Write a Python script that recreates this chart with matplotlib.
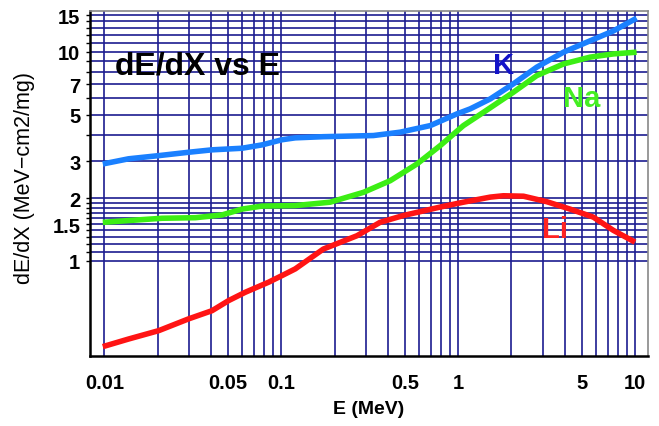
import numpy as np
import matplotlib
matplotlib.use("Agg")
import matplotlib.pyplot as plt
from matplotlib.ticker import FixedLocator, NullFormatter

plt.rcParams['font.family'] = ['Liberation Sans', 'DejaVu Sans']

# --- stopping power curves (E in MeV, dE/dX in MeV cm2/mg) ---
k_e = [0.0098, 0.0137, 0.0203, 0.0299, 0.0406, 0.060, 0.0778, 0.101, 0.120, 0.173,
       0.332, 0.47, 0.695, 0.983, 1.17, 1.52, 2.05, 2.78, 3.94, 5.57, 7.54, 10.2]
k_dedx = [2.91, 3.08, 3.19, 3.31, 3.40, 3.46, 3.59, 3.80, 3.88, 3.93,
          3.98, 4.13, 4.44, 5.05, 5.34, 5.96, 7.03, 8.45, 9.97, 11.3, 12.6, 14.5]

na_e = [0.0098, 0.0137, 0.0212, 0.0327, 0.0463, 0.060, 0.0778, 0.120, 0.189, 0.292,
        0.413, 0.585, 0.791, 1.07, 1.39, 2.05, 2.78, 3.94, 5.57, 7.54, 10.2]
na_dedx = [1.53, 1.56, 1.60, 1.61, 1.66, 1.77, 1.83, 1.84, 1.91, 2.13,
           2.42, 2.91, 3.56, 4.44, 5.14, 6.41, 7.70, 8.76, 9.44, 9.78, 9.97]

li_e = [0.0098, 0.0137, 0.0203, 0.0299, 0.0406, 0.0504, 0.0626, 0.0848, 0.101, 0.120,
        0.173, 0.268, 0.362, 0.491, 0.791, 1.07, 1.52, 1.80, 2.34, 3.17, 4.29, 5.81,
        7.54, 10.0]
li_dedx = [0.389, 0.423, 0.464, 0.528, 0.578, 0.646, 0.708, 0.791, 0.851, 0.916,
           1.14, 1.32, 1.53, 1.65, 1.81, 1.91, 2.02, 2.05, 2.04, 1.92, 1.77, 1.62,
           1.40, 1.23]

x_ticks = [0.01, 0.05, 0.1, 0.5, 1, 5, 10]
x_ticklabels = ['0.01', '0.05', '0.1', '0.5', '1', '5', '10']
y_ticks = [1, 1.5, 2, 3, 5, 7, 10, 15]
y_ticklabels = ['1', '1.5', '2', '3', '5', '7', '10', '15']

grid_col = '#1c1c90'

fig = plt.figure(figsize=(6.59, 4.27), dpi=100)
ax = fig.add_axes([0.1366, 0.164, 0.8464, 0.808])
ax.set_xscale('log')
ax.set_yscale('log')
ax.set_xlim(0.0083, 11.8)
ax.set_ylim(0.351, 15.7)

# vertical grid: 1..9 in each decade from 0.01 to 10
vlines = [m * 10.0 ** d for d in range(-2, 1) for m in range(1, 10)] + [10]
for v in vlines:
    ax.axvline(v, color=grid_col, lw=1.2, zorder=1)

# horizontal grid only above 1
hlines = [1 + 0.1 * i for i in range(11)] + list(range(3, 16))
for h in hlines:
    ax.axhline(h, color=grid_col, lw=1.2, zorder=1)

ax.plot(k_e, k_dedx, color='#1a80ff', lw=4, zorder=3, solid_capstyle='butt')
ax.plot(na_e, na_dedx, color='#3cee14', lw=4, zorder=3, solid_capstyle='butt')
ax.plot(li_e, li_dedx, color='#ff1414', lw=4, zorder=3, solid_capstyle='butt')

ax.xaxis.set_major_locator(FixedLocator(x_ticks))
ax.xaxis.set_minor_locator(FixedLocator([]))
ax.set_xticklabels(x_ticklabels, fontsize=14.5, fontweight='bold')
ax.yaxis.set_major_locator(FixedLocator(y_ticks))
ax.yaxis.set_minor_locator(FixedLocator(hlines))
ax.yaxis.set_minor_formatter(NullFormatter())
ax.set_yticklabels(y_ticklabels, fontsize=14.5, fontweight='bold')
ax.tick_params(axis='x', length=0, pad=12)
ax.tick_params(axis='y', which='both', length=3, width=1, direction='out', pad=4)

for side in ['left', 'bottom']:
    ax.spines[side].set_color('black')
    ax.spines[side].set_linewidth(1.8)
for side in ['top', 'right']:
    ax.spines[side].set_color('#888888')
    ax.spines[side].set_linewidth(1.2)

ax.set_xlabel('E (MeV)', fontsize=14, fontweight='bold', labelpad=6)
ax.set_ylabel('dE/dX (MeV\u2212cm2/mg)', fontsize=15.5)
ax.yaxis.set_label_coords(-0.098, 0.52)

ax.text(0.01154, 7.85, 'dE/dX vs E', fontsize=23, fontweight='bold', color='black', zorder=4)
ax.text(1.58, 7.94, 'K', fontsize=21, fontweight='bold', color='#1212c8', zorder=4)
ax.text(3.92, 5.52, 'Na', fontsize=21, fontweight='bold', color='#44ee22', zorder=4)
ax.text(2.98, 1.30, 'Li', fontsize=21, fontweight='bold', color='#ff2222', zorder=4)

fig.savefig('out.png', dpi=100)
